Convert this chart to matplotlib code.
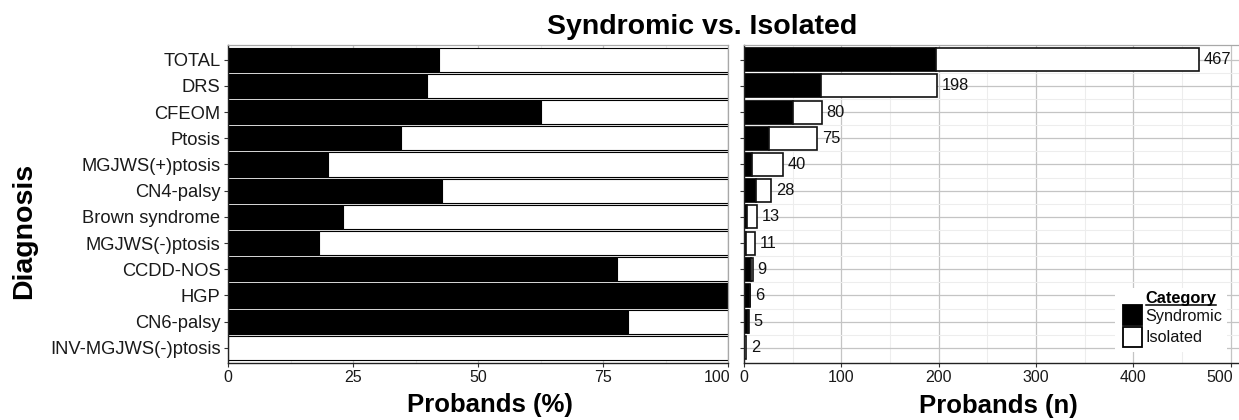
import numpy as np
import matplotlib
matplotlib.use("Agg")
import matplotlib.pyplot as plt
from matplotlib.patches import Rectangle
from matplotlib.lines import Line2D
from matplotlib.ticker import MultipleLocator
from matplotlib.transforms import ScaledTranslation

plt.rcParams['font.family'] = ['Liberation Sans', 'DejaVu Sans']

# ---- data ----
categories = ['TOTAL', 'DRS', 'CFEOM', 'Ptosis', 'MGJWS(+)ptosis', 'CN4-palsy',
              'Brown syndrome', 'MGJWS(-)ptosis', 'CCDD-NOS', 'HGP', 'CN6-palsy',
              'INV-MGJWS(-)ptosis']
syndromic = [197, 79, 50, 26, 8, 12, 3, 2, 7, 6, 4, 0]
isolated = [270, 119, 30, 49, 32, 16, 10, 9, 2, 0, 1, 2]
series_names = ['Syndromic', 'Isolated']
series_colors = ['black', 'white']
pct_ticks = [0, 25, 50, 75, 100]
n_ticks = [0, 100, 200, 300, 400, 500]

syn = np.array(syndromic, dtype=float)
iso = np.array(isolated, dtype=float)
tot = syn + iso
syn_pct = syn / tot * 100
iso_pct = iso / tot * 100
y = np.arange(len(categories))

W, H = 1239, 420
fig = plt.figure(figsize=(W / 100, H / 100), dpi=100)

top_px, bot_px = 45, 362.5
ax1 = fig.add_axes([228 / W, 1 - bot_px / H, 500 / W, (bot_px - top_px) / H])
ax2 = fig.add_axes([744 / W, 1 - bot_px / H, (W - 744) / W, (bot_px - top_px) / H])

major_c = '#c4c4c4'
minor_c = '#ededed'

for ax in (ax1, ax2):
    ax.set_axisbelow(True)
    ax.set_ylim(len(categories) - 0.44, -0.56)
    ax.set_yticks(y)
    ax.set_yticks(y[:-1] + 0.5, minor=True)
    ax.grid(True, which='major', color=major_c, lw=0.9)
    ax.grid(True, which='minor', color=minor_c, lw=0.8)
    ax.tick_params(axis='both', which='major', length=3.2, width=0.8, color='#333333',
                   labelcolor='#1a1a1a')
    ax.tick_params(axis='both', which='minor', length=0)
    ax.tick_params(axis='x', labelsize=11.5, pad=2.5)
    for s in ('left', 'bottom'):
        ax.spines[s].set_color('#222222')
        ax.spines[s].set_linewidth(1.0)
    for s in ('top', 'right'):
        ax.spines[s].set_color('#a8a8a8')
        ax.spines[s].set_linewidth(0.9)
    for s in ax.spines.values():
        s.set_zorder(5)

# left: percent
ax1.barh(y, syn_pct, height=0.925, color=series_colors[0], edgecolor='black', lw=0.8, zorder=3)
ax1.barh(y, iso_pct, left=syn_pct, height=0.925, color=series_colors[1], edgecolor='black',
         lw=0.8, zorder=3)
ax1.set_xlim(0, 100)
ax1.set_xticks(pct_ticks)
ax1.xaxis.set_minor_locator(MultipleLocator(12.5))
ax1.set_yticklabels(categories, fontsize=13.2)
ax1.tick_params(axis='y', pad=2.2)
ax1.set_xlabel('Probands (%)', fontsize=18.5, fontweight='bold')
ax1.xaxis.set_label_coords((490 - 228) / 500, -(412 - bot_px) / (bot_px - top_px))
ax1.xaxis.label.set_va('baseline')
ax1.set_ylabel('Diagnosis', fontsize=20.5, fontweight='bold')
ax1.yaxis.set_label_coords((24 - 228) / 500, (bot_px - 231) / (bot_px - top_px))
ax1.yaxis.label.set_va('center')

# right: counts
ax2.barh(y, syn, height=0.88, color=series_colors[0], edgecolor='black', lw=1.2, zorder=3)
ax2.barh(y, iso, left=syn, height=0.88, color=series_colors[1], edgecolor='#111111', lw=1.2,
         zorder=3)
ax2.set_xlim(0, (W - 744) / 0.9735)
ax2.set_xticks(n_ticks)
ax2.xaxis.set_minor_locator(MultipleLocator(50))
ax2.set_yticklabels([])
ax2.spines['right'].set_visible(False)
for yi, t in zip(y, tot):
    ax2.annotate(f'{int(t)}', xy=(t, yi), xytext=(3.5, 0), textcoords='offset points',
                 ha='left', va='center', fontsize=11.8, color='#111111', zorder=4)
ax2.set_xlabel('Probands (n)', fontsize=18.5, fontweight='bold')
ax2.xaxis.set_label_coords((998 - 744) / (W - 744), -(413 - bot_px) / (bot_px - top_px))
ax2.xaxis.label.set_va('baseline')

# last tick label of each panel is right-aligned at its tick
for ax in (ax1, ax2):
    lab = ax.get_xticklabels()[-1]
    lab.set_ha('right')
    lab.set_transform(lab.get_transform() + ScaledTranslation(2 / 100, 0, fig.dpi_scale_trans))

# title
fig.text(702 / W, 1 - 34 / H, 'Syndromic vs. Isolated', ha='center', va='baseline',
         fontsize=20.5, fontweight='bold')

# legend (drawn by hand so the title aligns with the labels, as in the reference)
def fx(px):
    return px / W

def fy(px):
    return 1 - px / H

fig.add_artist(Rectangle((fx(1115), fy(352)), 112 / W, 64 / H, transform=fig.transFigure,
                         facecolor='white', edgecolor='none', zorder=6))
key_tops = [304.5, 326.5]
label_base = [321.3, 341.5]
for name, col, kt, lb in zip(series_names, series_colors, key_tops, label_base):
    fig.add_artist(Rectangle((fx(1122.5), fy(kt + 20)), 19.5 / W, 20 / H,
                             transform=fig.transFigure, facecolor=col, edgecolor='black',
                             lw=1.3, zorder=7))
    fig.text(fx(1145.5), fy(lb), name, ha='left', va='baseline', fontsize=11.7,
             color='#111111', zorder=7)
ttl = fig.text(fx(1145.5), fy(302.7), 'Category', ha='left', va='baseline',
               fontsize=11.8, fontweight='bold', zorder=7)
fig.canvas.draw()
bb = ttl.get_window_extent()
fig.add_artist(Line2D([bb.x0 / W, bb.x1 / W], [fy(305.3), fy(305.3)],
                      transform=fig.transFigure, color='black', lw=1.1, zorder=7))

fig.savefig('out.png', dpi=100)
